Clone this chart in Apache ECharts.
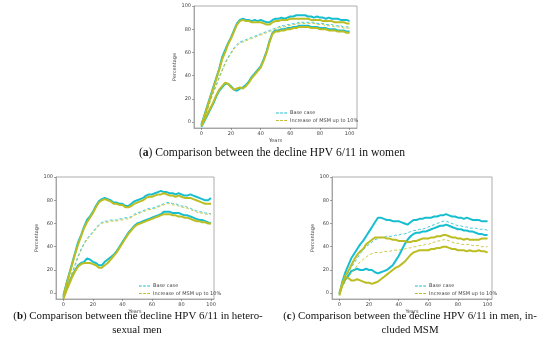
<!DOCTYPE html>
<html><head><meta charset="utf-8">
<script src="https://cdn.jsdelivr.net/npm/echarts@6/dist/echarts.min.js"></script>
<style>html,body{margin:0;padding:0;background:#fff}#c{width:550px;height:350px}</style>
</head><body><div id="c"></div>
<script>
const years = [0,2,4,6,8,10,12,14,16,18,20,22,24,26,28,30,32,34,36,38,40,42,44,46,48,50,52,54,56,58,60,62,64,66,68,70,72,74,76,78,80,82,84,86,88,90,92,94,96,98,100];
const yTicks = [0,20,40,60,80,100];
const xTicks = [0,20,40,60,80,100];
const legendNames = ['Base case','Increase of MSM up to 10%'];
const panelKeys = ['a','b','c'];
const captions = [
  ['a',' Comparison between the decline HPV 6/11 in women'],
  ['b',' Comparison between the decline HPV 6/11 in hetero-','sexual men'],
  ['c',' Comparison between the decline HPV 6/11 in men, in-','cluded MSM']
];

// Panel (a) women
const aBaseUpper = [-2,6,14,22,30,38,46,56,62,68,73,79,85,88,89,88,88,87,88,87,88,87,86,86,88,89,89,90,89,90,91,91,92,92,92,92,91,91,90,91,90,90,89,90,89,89,89,88,88,88,87];
const aBaseMean  = [0,4,11,19,26,32,39,45,51,56,60,64,67,69,70,71,72,73,74,75,76,77,78,79,80,81,82,83,83,84,84,85,85,86,86,86,86,86,86,85,85,85,84,84,84,83,83,83,82,82,82];
const aBaseLower = [-4,1,6,11,16,22,27,30,33,33,31,28,27,29,30,32,35,39,42,45,48,54,61,70,77,79,79,80,80,81,81,82,82,83,83,83,83,82,82,82,81,81,81,80,80,80,79,79,79,78,78];
const aMsmUpper  = [-3,5,13,21,29,37,45,54,60,67,72,78,84,87,88,87,87,86,86,86,86,85,84,84,86,87,87,88,88,88,89,89,89,89,89,89,89,88,88,88,88,87,87,87,87,86,86,86,86,85,85];
const aMsmMean   = [0,4,10,18,25,31,38,44,50,55,59,63,66,68,69,70,71,72,73,74,75,76,77,78,79,80,81,82,82,83,83,84,84,85,85,85,85,85,85,84,84,84,83,83,83,82,82,82,81,81,81];
const aMsmLower  = [-3,2,7,12,17,23,28,31,34,33,30,28,29,30,29,31,34,38,41,44,47,53,60,69,76,78,78,79,79,80,80,81,81,82,82,82,82,81,81,81,80,80,80,79,79,79,78,78,78,77,77];

// Panel (b) heterosexual men
const bBaseUpper = [-2,8,17,26,35,44,50,57,63,66,70,75,79,81,82,81,80,78,78,77,77,75,75,77,79,80,81,82,84,85,85,86,87,88,87,87,86,86,85,86,85,84,84,85,84,83,82,81,80,80,82];
const bBaseMean  = [0,5,11,18,25,32,38,43,47,50,53,56,59,61,62,62,63,63,63,64,64,65,65,66,68,69,70,71,72,73,73,74,75,76,77,78,78,77,77,76,75,75,74,73,72,71,70,70,69,69,68];
const bBaseLower = [-4,3,9,15,20,24,26,27,30,29,27,26,24,24,27,29,31,33,36,40,44,48,52,55,58,60,61,62,63,64,65,66,67,68,70,70,70,69,69,69,68,67,67,66,65,64,63,63,62,61,60];
const bMsmUpper  = [-3,7,16,25,34,42,49,56,61,65,69,74,78,80,81,80,79,77,77,76,76,74,74,75,77,78,79,80,82,83,83,84,85,85,86,85,84,84,83,84,83,82,82,82,81,80,79,78,77,77,77];
const bMsmMean   = [0,4,10,17,24,31,37,42,46,49,52,55,58,60,61,61,62,62,62,63,63,64,64,65,67,68,69,70,71,72,72,73,74,75,76,77,77,76,76,75,74,74,73,72,71,70,69,69,68,68,68];
const bMsmLower  = [-5,2,8,14,19,23,25,26,26,26,25,24,22,22,24,26,29,32,35,39,43,47,51,54,57,59,60,61,62,63,64,65,66,67,68,68,68,67,67,66,66,65,65,64,63,62,62,61,61,60,60];

// Panel (c) men, including MSM
const cBaseUpper = [-1,10,18,24,30,34,38,42,45,49,53,57,61,65,65,64,63,63,62,62,62,61,60,59,61,63,63,64,64,65,65,65,66,66,67,67,68,67,66,66,65,65,64,65,64,63,63,63,62,62,62];
const cBaseMean  = [0,7,13,18,22,26,30,34,37,40,42,44,46,47,48,48,49,49,49,50,50,51,51,52,53,54,54,55,55,56,57,58,59,60,61,62,62,61,60,59,58,58,57,57,56,56,56,55,55,55,54];
const cBaseLower = [0,7,12,15,19,20,21,20,20,21,20,20,18,17,18,19,20,22,24,28,32,37,42,46,49,51,52,52,53,53,54,55,56,57,58,58,59,58,57,56,55,55,54,54,53,53,52,51,51,50,50];
const cMsmUpper  = [-2,8,15,19,24,29,33,36,38,42,44,46,48,48,48,48,47,47,46,46,45,45,45,44,44,45,45,46,47,47,47,48,48,49,49,50,50,49,48,48,47,47,46,47,46,46,46,46,47,47,47];
const cMsmMean   = [0,5,10,14,17,20,24,27,29,31,33,34,35,35,35,36,36,36,37,37,37,38,38,39,39,40,40,41,41,42,42,43,44,45,45,46,46,45,44,43,43,42,42,42,42,41,41,41,40,40,40];
const cMsmLower  = [0,8,14,13,11,11,12,11,10,9,9,8,9,10,12,14,16,18,20,22,23,25,27,30,33,35,36,37,37,37,37,38,38,39,39,40,40,39,38,38,37,37,37,36,37,36,36,37,36,36,35];

const panels = [
  {base:[aBaseUpper,aBaseMean,aBaseLower], msm:[aMsmUpper,aMsmMean,aMsmLower]},
  {base:[bBaseUpper,bBaseMean,bBaseLower], msm:[bMsmUpper,bMsmMean,bMsmLower]},
  {base:[cBaseUpper,cBaseMean,cBaseLower], msm:[cMsmUpper,cMsmMean,cMsmLower]}
];

const CYAN = '#17becf', OLIVE = '#bcbd22';
const grids = [
  {left:194, top:6, width:163, height:122},
  {left:56, top:177, width:158, height:122},
  {left:332, top:177, width:160, height:122}
];
const xMax = [105, 102, 103];
const tickFont = {fontSize:5, color:'#444', fontFamily:'DejaVu Sans'};
const pairs = arr => arr.map((v,i)=>[years[i], v]);
const dashIcon = 'path://M0,0h3v1h-3z M4.5,0h3v1h-3z M9,0h3v1h-3z';

const xAxes = [], yAxes = [], series = [], legends = [];
const legendPos = [{left:276, top:110.5}, {left:139, top:283.5}, {left:415, top:283.5}];

grids.forEach((g,i)=>{
  g.show = true; g.borderColor = '#999'; g.borderWidth = 0.8; g.backgroundColor = '#fff';
  xAxes.push({type:'value', gridIndex:i, min:-5, max:xMax[i],
    name:'Years', nameLocation:'middle', nameGap:10,
    nameTextStyle:{fontSize:5, color:'#444', fontFamily:'DejaVu Sans'},
    axisLine:{show:true, onZero:false, lineStyle:{color:'#999', width:0.8}},
    axisTick:{show:true, length:2, customValues:xTicks, lineStyle:{color:'#666', width:0.6}},
    axisLabel:Object.assign({margin:3, customValues:xTicks}, tickFont),
    splitLine:{show:false}});
  yAxes.push({type:'value', gridIndex:i, min:-5, max:100,
    name:'Percentage', nameLocation:'middle', nameGap:14, nameRotate:90,
    nameTextStyle:{fontSize:5, color:'#444', fontFamily:'DejaVu Sans'},
    axisLine:{show:true, onZero:false, lineStyle:{color:'#999', width:0.8}},
    axisTick:{show:true, length:2, customValues:yTicks, lineStyle:{color:'#666', width:0.6}},
    axisLabel:Object.assign({margin:3, customValues:yTicks}, tickFont),
    splitLine:{show:false}});
  const p = panels[i];
  const key = panelKeys[i];
  [[p.base, CYAN, legendNames[0]], [p.msm, OLIVE, legendNames[1]]].forEach(([set,col,nm])=>{
    series.push({type:'line', name:nm+'|'+key+'|upper', xAxisIndex:i, yAxisIndex:i, data:pairs(set[0]),
      showSymbol:false, symbol:'none', lineStyle:{color:col, width:2}, itemStyle:{color:col}, animation:false});
    series.push({type:'line', name:nm+'|'+key+'|lower', xAxisIndex:i, yAxisIndex:i, data:pairs(set[2]),
      showSymbol:false, symbol:'none', lineStyle:{color:col, width:2}, itemStyle:{color:col}, animation:false});
    series.push({type:'line', name:nm+'|'+key, xAxisIndex:i, yAxisIndex:i, data:pairs(set[1]),
      showSymbol:false, symbol:'none', lineStyle:{color:col, width:0.8, type:[3,2]}, itemStyle:{color:col}, animation:false});
  });
  legends.push({
    data:[
      {name:legendNames[0]+'|'+key, icon:dashIcon, itemStyle:{color:CYAN, borderWidth:0}},
      {name:legendNames[1]+'|'+key, icon:dashIcon, itemStyle:{color:OLIVE, borderWidth:0}}
    ],
    formatter: n => n.split('|')[0],
    orient:'vertical', left:legendPos[i].left, top:legendPos[i].top,
    itemWidth:11, itemHeight:1, itemGap:2.5, padding:0,
    selectedMode:false,
    lineStyle:{width:0, opacity:0},
    textStyle:{fontSize:5, color:'#444', fontFamily:'DejaVu Sans', padding:[0,0,0,-2]}});
});

const capStyle = (size)=>({fontFamily:'Liberation Serif', fontSize:size, fill:'#111'});
const graphic = [];
function cap(text, boldLetter, x, y, size){
  graphic.push({type:'text', x:x, y:y, style:Object.assign({
    text:'({b|'+boldLetter+'})'+text, align:'center', verticalAlign:'middle',
    rich:{b:{fontFamily:'Liberation Serif', fontSize:size, fontWeight:'bold', fill:'#111'}}
  }, capStyle(size))});
}
function plain(text, x, y, size){
  graphic.push({type:'text', x:x, y:y, style:Object.assign({text:text, align:'center', verticalAlign:'middle'}, capStyle(size))});
}
cap(captions[0][1], captions[0][0], 272, 153, 11.6);
cap(captions[1][1], captions[1][0], 138, 316, 10.9);
plain(captions[1][2], 137, 330, 10.9);
cap(captions[2][1], captions[2][0], 410, 316, 10.9);
plain(captions[2][2], 410, 330, 10.9);

const chart = echarts.init(document.getElementById('c'), null, {renderer:'canvas'});
chart.setOption({backgroundColor:'#fff', animation:false, grid:grids, xAxis:xAxes, yAxis:yAxes,
  series:series, legend:legends, graphic:graphic});
</script></body></html>
